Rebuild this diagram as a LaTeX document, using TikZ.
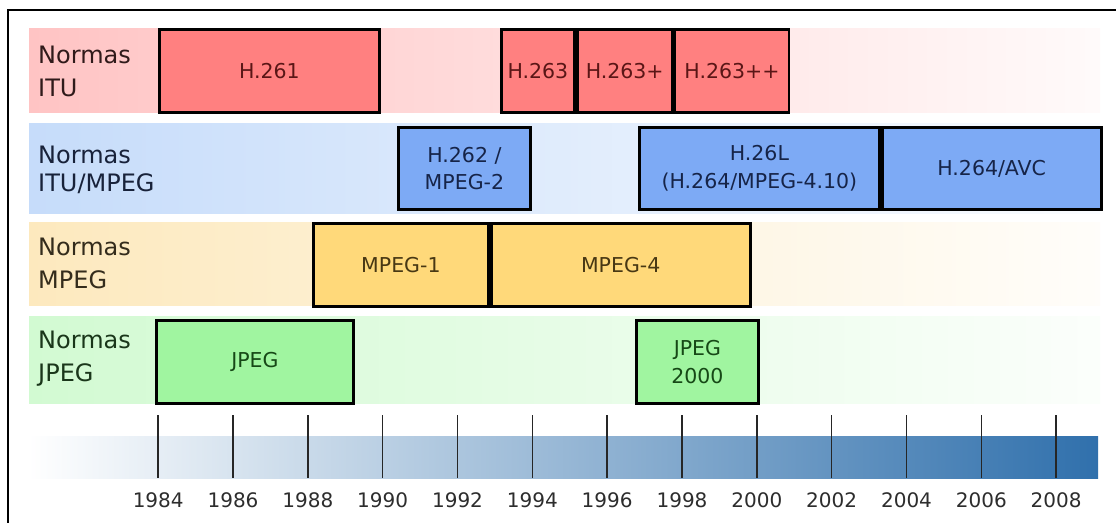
\documentclass[tikz,border=0pt]{standalone}
\usepackage{fontspec}
\setmainfont{DejaVu Sans}
\definecolor{ituB}{RGB}{255,196,196}
\definecolor{ituC}{RGB}{255,128,128}
\definecolor{ituT}{RGB}{90,22,22}
\definecolor{ituL}{RGB}{48,26,26}
\definecolor{mixB}{RGB}{198,220,250}
\definecolor{mixC}{RGB}{125,170,245}
\definecolor{mixT}{RGB}{22,36,72}
\definecolor{mixL}{RGB}{24,34,58}
\definecolor{mpB}{RGB}{253,233,190}
\definecolor{mpC}{RGB}{255,217,122}
\definecolor{mpT}{RGB}{72,56,20}
\definecolor{mpL}{RGB}{52,44,28}
\definecolor{jpB}{RGB}{210,250,210}
\definecolor{jpC}{RGB}{160,245,160}
\definecolor{jpT}{RGB}{22,72,22}
\definecolor{jpL}{RGB}{26,54,26}
\definecolor{barC}{RGB}{48,112,172}
\definecolor{barM}{RGB}{150,184,216}
\definecolor{yearT}{RGB}{45,45,45}
\begin{document}
\begin{tikzpicture}[x=1pt,y=-1pt,
  stdbox/.style={draw=black, line width=2.8pt, inner sep=0pt, align=center,
    anchor=north west, font=\fontsize{20.5}{27.5}\selectfont},
  itubox/.style={stdbox, fill=ituC, text=ituT, minimum height=83pt},
  mixbox/.style={stdbox, fill=mixC, text=mixT, minimum height=82pt},
  mpbox/.style={stdbox, fill=mpC, text=mpT, minimum height=83pt},
  jpbox/.style={stdbox, fill=jpC, text=jpT, minimum height=83pt},
  rowlbl/.style={anchor=base west, align=left, inner sep=0pt,
    font=\fontsize{24}{33}\selectfont},
  yearlbl/.style={anchor=base, inner sep=0pt, text=yearT,
    font=\fontsize{20}{24}\selectfont},
  tickline/.style={line width=1.5pt, draw=black!85}
]
\useasboundingbox (0,0) rectangle (1116,522);
\fill[white] (0,0) rectangle (1116,522);
% outer frame
\draw[line width=1.6pt] (8,530) -- (8,10) -- (1120,10);
% bands
\shade[left color=ituB, right color=ituB!8!white] (29,28) rectangle (1100,112);
\shade[left color=mixB, right color=mixB!8!white] (29,123) rectangle (1100,213);
\shade[left color=mpB, right color=mpB!8!white] (29,222) rectangle (1100,305);
\shade[left color=jpB, right color=jpB!8!white] (29,316) rectangle (1100,403);
% timeline bar
\shade[left color=white, middle color=barM, right color=barC] (28,436) rectangle (1098,478);
% row labels (anchor at baseline of the last line)
\node[rowlbl, text=ituL] (litu) at (38,96) {Normas\\ITU};
\node[rowlbl, text=mixL, font=\fontsize{24}{28.5}\selectfont] (lmix) at (38,191.5) {Normas\\ITU/MPEG};
\node[rowlbl, text=mpL] (lmp) at (38,288) {Normas\\MPEG};
\node[rowlbl, text=jpL] (ljp) at (38,381.5) {Normas\\JPEG};
% ITU boxes
\node[itubox, minimum width=220pt] (h261) at (158,28) {H.261};
\node[itubox, minimum width=73pt] (h263) at (500,28) {H.263};
\node[itubox, minimum width=95pt] (h263p) at (h263.north east) {H.263+};
\node[itubox, minimum width=114pt] (h263pp) at (h263p.north east) {H.263++};
% ITU/MPEG boxes
\node[mixbox, minimum width=132pt] (h262) at (397,126) {H.262 /\\MPEG-2};
\node[mixbox, minimum width=240pt] (h26l) at (638,126) {H.26L\\(H.264/MPEG-4.10)};
\node[mixbox, minimum width=219pt] (h264) at (h26l.north east) {H.264/AVC};
% MPEG boxes
\node[mpbox, minimum width=175pt] (mpeg1) at (312,222) {MPEG-1};
\node[mpbox, minimum width=259pt] (mpeg4) at (mpeg1.north east) {MPEG-4};
% JPEG boxes
\node[jpbox, minimum width=197pt] (jpeg) at (155,319) {JPEG};
\node[jpbox, minimum width=122pt] (jpeg2k) at (635,319) {JPEG\\2000};
% ticks and years
\foreach \yr [count=\i from 0] in {1984,1986,...,2008} {
  \pgfmathsetmacro\xx{158.2+\i*74.83}
  \coordinate (t\yr) at (\xx,415);
  \coordinate (b\yr) at (\xx,478);
  \draw[tickline] (t\yr) -- (b\yr);
  \node[yearlbl] (y\yr) at (\xx,507) {\yr};
}
\end{tikzpicture}
\end{document}
